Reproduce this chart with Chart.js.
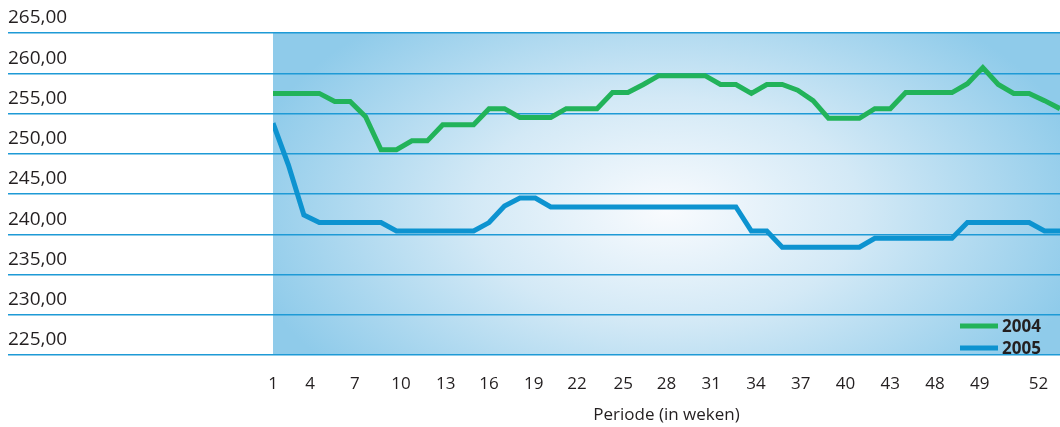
<!DOCTYPE html>
<html>
<head>
<meta charset="utf-8">
<title>Periode (in weken)</title>
<script src="https://cdn.jsdelivr.net/npm/chart.js@4.4.1/dist/chart.umd.min.js"></script>
<style>
    html, body { margin: 0; padding: 0; background: #ffffff; }
    #wrap { width: 1060px; height: 427px; position: relative; }
</style>
</head>
<body>
<div id="wrap"><canvas id="chart"></canvas></div>
<script>
// weeks 1..52
const weeks = [1, 2, 3, 4, 5, 6, 7, 8, 9, 10, 11, 12, 13, 14, 15, 16, 17, 18, 19, 20,
    21, 22, 23, 24, 25, 26, 27, 28, 29, 30, 31, 32, 33, 34, 35, 36, 37, 38, 39, 40,
    41, 42, 43, 44, 45, 46, 47, 48, 49, 50, 51, 52];

const series2004 = [257.5, 257.5, 257.5, 257.5, 256.5, 256.5, 254.6, 250.5, 250.5, 251.6,
    251.6, 253.6, 253.6, 253.6, 255.6, 255.6, 254.5, 254.5, 254.5, 255.6,
    255.6, 255.6, 257.6, 257.6, 258.6, 259.7, 259.7, 259.7, 259.7, 258.6,
    258.6, 257.5, 258.6, 258.6, 257.9, 256.6, 254.4, 254.4, 254.4, 255.6,
    255.6, 257.6, 257.6, 257.6, 257.6, 258.7, 260.7, 258.6, 257.5, 257.5,
    256.6, 255.6];

const series2005 = [253.8, 248.6, 242.4, 241.45, 241.45, 241.45, 241.45, 241.45, 240.4, 240.4,
    240.4, 240.4, 240.4, 240.4, 241.45, 243.5, 244.5, 244.5, 243.4, 243.4,
    243.4, 243.4, 243.4, 243.4, 243.4, 243.4, 243.4, 243.4, 243.4, 243.4,
    243.4, 240.4, 240.4, 238.4, 238.4, 238.4, 238.4, 238.4, 238.4, 239.5,
    239.5, 239.5, 239.5, 239.5, 239.5, 241.45, 241.45, 241.45, 241.45, 241.45,
    240.4, 240.4];

// x tick labels as printed, and where they sit on the week axis
const xTickLabels = ['1', '4', '7', '10', '13', '16', '19', '22', '25', '28',
    '31', '34', '37', '40', '43', '48', '49', '52'];
const xTickAt = [1, 3.4, 6.3, 9.3, 12.2, 15.0, 17.9, 20.7, 23.7, 26.5,
    29.4, 32.3, 35.2, 38.1, 41.0, 43.9, 46.8, 50.6];

const yMin = 225;
const yMax = 265;
const yStep = 5;

const fontFamily = '"Open Sans", "Noto Sans", sans-serif';
const textColor = '#231f20';
const gridColor = '#1e9ad6';

const toPoints = (vals) => weeks.map((w, i) => ({ x: w, y: vals[i] }));

// soft radial wash behind the plot
const plotBackground = {
    id: 'plotBackground',
    beforeDraw(chart) {
        const { ctx, chartArea: a } = chart;
        const cx = a.left + (a.right - a.left) * 0.5;
        const cy = a.top + (a.bottom - a.top) * 0.55;
        const rx = 430;
        const ry = 250;
        ctx.save();
        ctx.beginPath();
        ctx.rect(a.left, a.top, a.right - a.left, a.bottom - a.top);
        ctx.clip();
        ctx.translate(cx, cy);
        ctx.scale(rx / ry, 1);
        const g = ctx.createRadialGradient(0, 0, 0, 0, 0, ry);
        g.addColorStop(0, '#f9fbfe');
        g.addColorStop(0.45, '#d3e9f6');
        g.addColorStop(1, '#8fcbea');
        ctx.fillStyle = g;
        ctx.fillRect(-cx * 2, -cy * 2, 4000, 2000);
        ctx.restore();
    }
};

// legend drawn inside the plot, bottom right
const insideLegend = {
    id: 'insideLegend',
    afterDatasetsDraw(chart) {
        const { ctx, chartArea: a } = chart;
        ctx.save();
        ctx.font = 'bold 17px ' + fontFamily;
        ctx.textBaseline = 'middle';
        ctx.textAlign = 'left';
        chart.data.datasets.forEach((ds, i) => {
            const y = a.bottom - 29 + i * 22;
            ctx.strokeStyle = ds.borderColor;
            ctx.lineWidth = 5;
            ctx.beginPath();
            ctx.moveTo(a.right - 100, y);
            ctx.lineTo(a.right - 62, y);
            ctx.stroke();
            ctx.fillStyle = textColor;
            ctx.fillText(ds.label, a.right - 58, y + 1);
        });
        ctx.restore();
    }
};

const ctx = document.getElementById('chart');

new Chart(ctx, {
    type: 'line',
    data: {
        datasets: [{
            label: '2004',
            data: toPoints(series2004),
            borderColor: '#22b35a',
            borderWidth: 5,
            pointRadius: 0,
            tension: 0
        }, {
            label: '2005',
            data: toPoints(series2005),
            borderColor: '#0d93d0',
            borderWidth: 5,
            pointRadius: 0,
            tension: 0
        }]
    },
    options: {
        responsive: true,
        maintainAspectRatio: false,
        animation: false,
        layout: {
            padding: { left: 8, right: 0, top: 33, bottom: 0 }
        },
        plugins: {
            legend: { display: false },
            tooltip: { enabled: false }
        },
        scales: {
            x: {
                type: 'linear',
                min: 1,
                max: 52,
                grid: { display: false },
                border: { display: false },
                afterBuildTicks(scale) {
                    scale.ticks = xTickAt.map(v => ({ value: v }));
                },
                afterFit(scale) {
                    scale.height = 72;
                    scale.paddingLeft = 0;
                    scale.paddingRight = 0;
                },
                ticks: {
                    autoSkip: false,
                    maxRotation: 0,
                    padding: 11,
                    color: textColor,
                    font: { family: fontFamily, size: 17 },
                    callback: (value, index) => xTickLabels[index]
                },
                title: {
                    display: true,
                    text: 'Periode (in weken)',
                    color: textColor,
                    font: { family: fontFamily, size: 17 },
                    padding: { top: 4, bottom: 2 }
                }
            },
            y: {
                min: yMin,
                max: yMax,
                border: { display: false },
                afterFit(scale) {
                    scale.width = 265;
                },
                grid: {
                    color: gridColor,
                    lineWidth: 1.5,
                    drawTicks: true,
                    tickLength: 265
                },
                ticks: {
                    stepSize: yStep,
                    crossAlign: 'far',
                    labelOffset: -15,
                    color: textColor,
                    font: { family: fontFamily, size: 19 },
                    callback: (value) => value.toFixed(2).replace('.', ',')
                }
            }
        }
    },
    plugins: [plotBackground, insideLegend]
});
</script>
</body>
</html>
